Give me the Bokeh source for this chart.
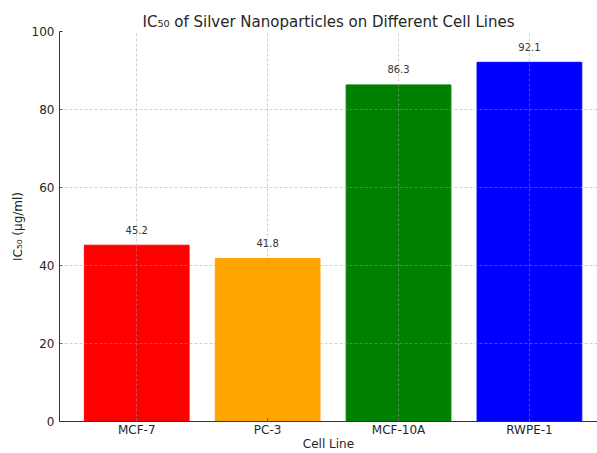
from bokeh.plotting import figure
from bokeh.models import Range1d, FixedTicker, ColumnDataSource
from bokeh.embed import file_html
from bokeh.resources import INLINE

categories = ["MCF-7", "PC-3", "MCF-10A", "RWPE-1"]
ic50_values = [45.2, 41.8, 86.3, 92.1]
bar_colors = ["#ff0000", "#ffa500", "#008000", "#0000ff"]
y_ticks = [0, 20, 40, 60, 80, 100]

FONT = "DejaVu Sans"
TXT = "#262626"

xs = list(range(len(categories)))
src = ColumnDataSource(dict(
    x=xs,
    top=ic50_values,
    color=bar_colors,
    label_y=[v + 3 for v in ic50_values],
    label=[f"{v:.1f}" for v in ic50_values],
))

p = figure(width=597, height=453, output_backend="svg", toolbar_location=None,
           x_range=Range1d(-0.59, 3.52), y_range=Range1d(0, 100),
           min_border_left=59, min_border_right=0,
           min_border_top=31, min_border_bottom=32)
p.border_fill_color = "white"

p.title.text = "IC\u2085\u2080 of Silver Nanoparticles on Different Cell Lines"
p.title.text_font = FONT
p.title.text_font_size = "15px"
p.title.text_font_style = "normal"
p.title.text_color = TXT
p.title.align = "center"
p.title.standoff = 2
p.title.offset = 4

p.vbar(x="x", top="top", width=0.8, color="color", source=src)
p.text(x="x", y="label_y", text="label", source=src, text_align="center",
       text_baseline="bottom", text_font_size="10px", text_color="#333333",
       text_font={"value": FONT})

p.outline_line_color = None
p.background_fill_color = "white"

for ax in (p.xaxis[0], p.yaxis[0]):
    ax.axis_line_color = "#333333"
    ax.major_tick_line_color = "#333333"
    ax.major_tick_out = 0
    ax.major_tick_in = 3
    ax.minor_tick_line_color = None
    ax.major_label_text_font = FONT
    ax.major_label_text_font_size = "12px"
    ax.major_label_text_color = TXT
    ax.axis_label_text_font = FONT
    ax.axis_label_text_font_size = "12px"
    ax.axis_label_text_font_style = "normal"
    ax.axis_label_text_color = TXT

p.xaxis.ticker = FixedTicker(ticks=xs)
p.xaxis.major_label_overrides = {i: c for i, c in zip(xs, categories)}
p.xaxis.major_label_standoff = 1
p.xaxis.axis_label = "Cell Line"
p.xaxis.axis_label_standoff = -3
p.yaxis.ticker = FixedTicker(ticks=y_ticks)
p.yaxis.axis_label = "IC\u2085\u2080 (\u00b5g/ml)"
p.yaxis.major_label_standoff = 5
p.yaxis.axis_label_standoff = 4

p.xgrid.ticker = FixedTicker(ticks=xs)
p.ygrid.ticker = FixedTicker(ticks=y_ticks)
for g in (p.xgrid[0], p.ygrid[0]):
    g.grid_line_color = "#a0a0a0"
    g.grid_line_alpha = 0.6
    g.grid_line_dash = "3 2"
    g.grid_line_width = 0.8
    g.level = "annotation"

open("out.html", "w").write(file_html(p, INLINE))
